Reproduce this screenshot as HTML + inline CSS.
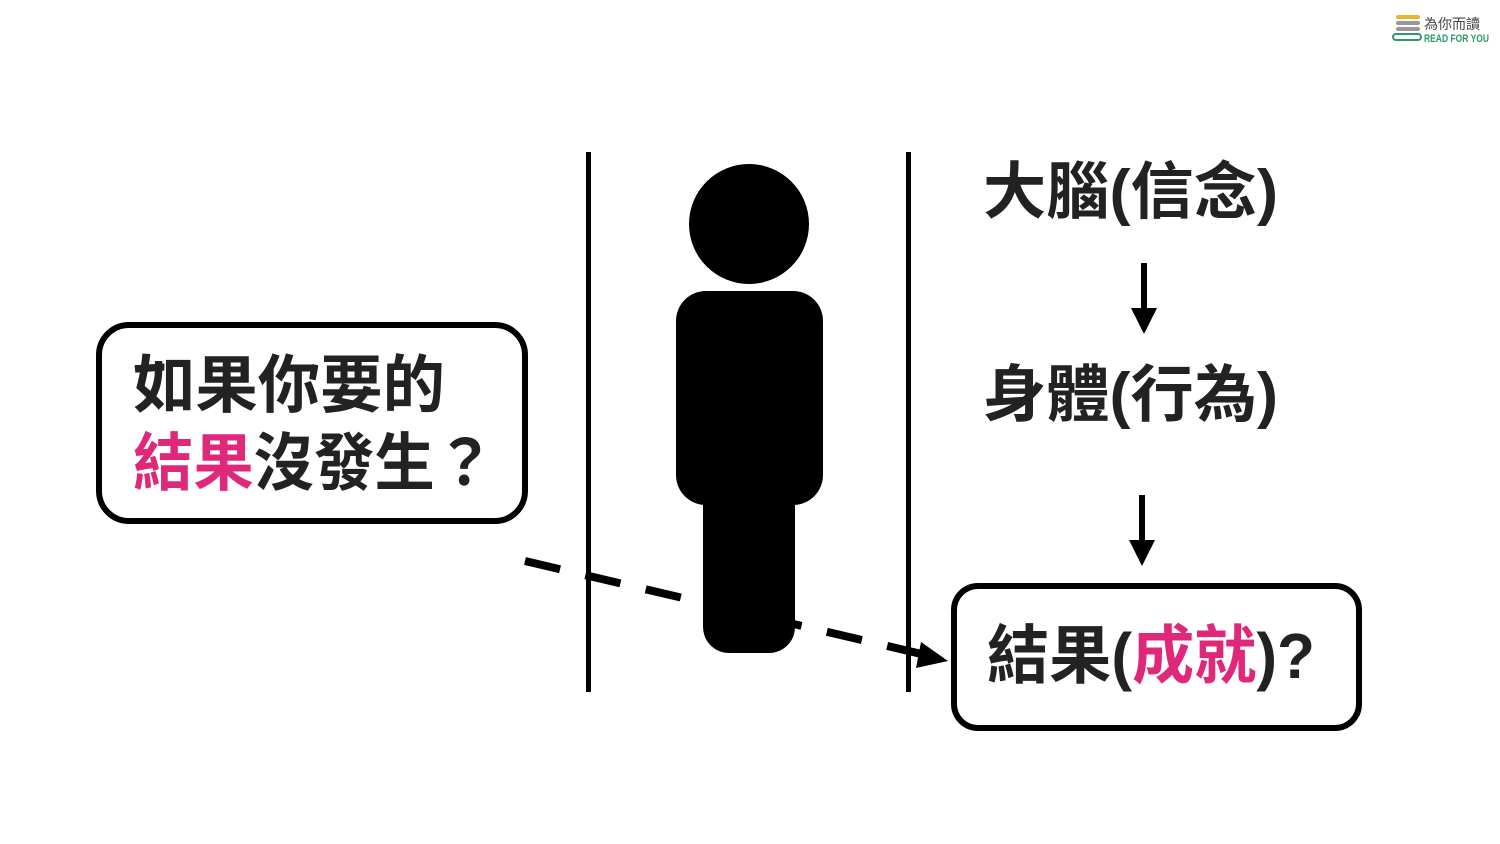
<!DOCTYPE html>
<html><head><meta charset="utf-8"><style>
html,body{margin:0;padding:0;background:#fff;}
svg{display:block}
text{font-family:"Liberation Sans","Noto Sans CJK TC",sans-serif;font-weight:bold;fill:#222;}
</style></head><body>
<svg width="1500" height="844" viewBox="0 0 1500 844" xmlns="http://www.w3.org/2000/svg">
<g>
<rect x="1396" y="15" width="24" height="4" rx="2" fill="#e8b82a"/>
<rect x="1396" y="21" width="24" height="4" rx="2" fill="#999"/>
<rect x="1396" y="27" width="24" height="4" rx="2" fill="#999"/>
<rect x="1393" y="34" width="28" height="6" rx="3" fill="none" stroke="#2a9a6a" stroke-width="2"/>
<text x="1424" y="29" style="font-size:14px;fill:#444;font-weight:normal">為你而讀</text>
<text x="1424" y="42" style="font-size:11px;fill:#2a9a6a" textLength="65" lengthAdjust="spacingAndGlyphs">READ FOR YOU</text>
</g>
<rect x="99" y="325" width="426" height="196" rx="30" fill="#fff" stroke="#000" stroke-width="6"/>
<text x="133" y="407" style="font-size:63px" textLength="312" lengthAdjust="spacingAndGlyphs">如果你要的</text>
<text x="133" y="485" style="font-size:63px" textLength="362" lengthAdjust="spacingAndGlyphs"><tspan style="fill:#e0287a">結果</tspan>沒發生？</text>
<line x1="525" y1="561" x2="930" y2="656" stroke="#000" stroke-width="8" stroke-dasharray="36 26"/>
<polygon points="948,661 921,642 916,668" fill="#000"/>
<rect x="586" y="152" width="5" height="540" fill="#000"/>
<rect x="906" y="152" width="5" height="540" fill="#000"/>
<circle cx="749" cy="224" r="60" fill="#000"/>
<rect x="676" y="291" width="147" height="214" rx="30" fill="#000"/>
<rect x="703" y="470" width="92" height="183" rx="26" fill="#000"/>
<text x="983" y="213" style="font-size:62px" textLength="295" lengthAdjust="spacingAndGlyphs">大腦(信念)</text>
<rect x="1141" y="263" width="6" height="50" fill="#000"/>
<polygon points="1131,308 1157,308 1144,334" fill="#000"/>
<text x="983" y="416" style="font-size:62px" textLength="295" lengthAdjust="spacingAndGlyphs">身體(行為)</text>
<rect x="1139" y="495" width="6" height="50" fill="#000"/>
<polygon points="1129,540 1155,540 1142,566" fill="#000"/>
<rect x="954" y="586" width="405" height="142" rx="24" fill="#fff" stroke="#000" stroke-width="6"/>
<text x="987" y="678" style="font-size:64px" textLength="328" lengthAdjust="spacingAndGlyphs">結果(<tspan style="fill:#e0287a">成就</tspan>)?</text>
</svg>
</body></html>
